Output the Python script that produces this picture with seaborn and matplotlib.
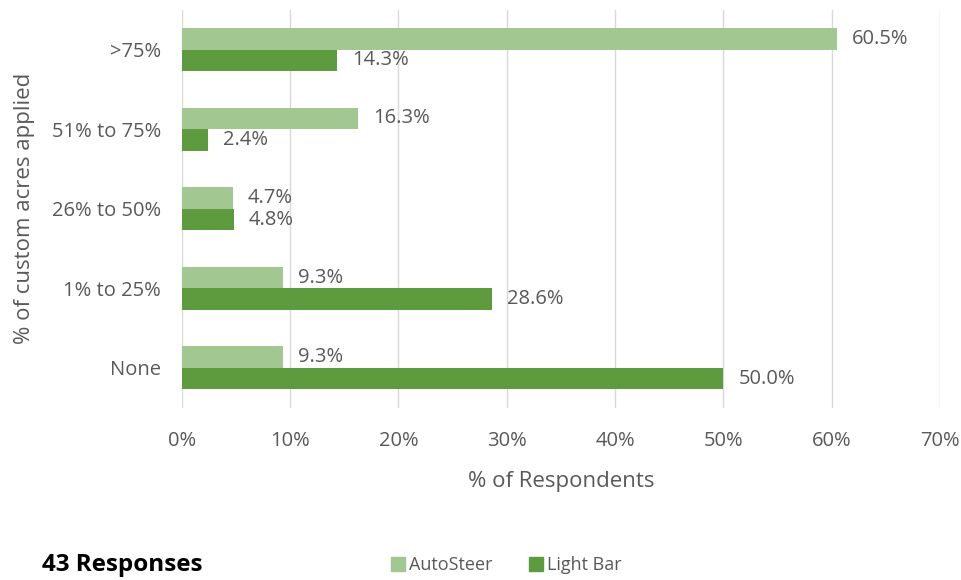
import matplotlib.pyplot as plt
import matplotlib.ticker as mticker
import pandas as pd
import seaborn as sns

# values
categories = ['>75%', '51% to 75%', '26% to 50%', '1% to 25%', 'None']
autosteer = [60.5, 16.3, 4.7, 9.3, 9.3]
light_bar = [14.3, 2.4, 4.8, 28.6, 50.0]
series = ['AutoSteer', 'Light Bar']
colors = ['#A2C791', '#5E9A3E']
x_ticks = [0, 10, 20, 30, 40, 50, 60, 70]

df = pd.DataFrame({
    'category': categories * 2,
    'value': autosteer + light_bar,
    'series': [series[0]] * len(categories) + [series[1]] * len(categories),
})

sns.set_theme(style='white')
plt.rcParams['font.family'] = ['Open Sans', 'DejaVu Sans']
text_color = '#595959'

fig = plt.figure(figsize=(9.62, 5.8), dpi=100)
ax = fig.add_axes([0.189, 0.297, 0.788, 0.686])

sns.barplot(data=df, x='value', y='category', hue='series', order=categories,
            hue_order=series, palette=colors, orient='h', width=0.54,
            saturation=1, linewidth=0, legend=False, ax=ax)

for cont in ax.containers:
    ax.bar_label(cont, labels=[f'{v:.1f}%' for v in cont.datavalues],
                 padding=11, fontsize=14.5, color=text_color)

ax.set_xlim(0, 70)
ax.set_ylim(4.5, -0.5)
ax.set_xticks(x_ticks)
ax.xaxis.set_major_formatter(mticker.FuncFormatter(lambda v, p: f'{v:.0f}%'))
ax.grid(axis='x', color='#D9D9D9', linewidth=1)
ax.set_axisbelow(True)
for s in ax.spines.values():
    s.set_visible(False)
ax.tick_params(axis='both', length=0, labelsize=14.5, labelcolor=text_color)
ax.tick_params(axis='x', pad=17)
ax.tick_params(axis='y', pad=15)

ax.set_xlabel('% of Respondents', fontsize=16, color=text_color, labelpad=14)
ax.set_ylabel('% of custom acres applied', fontsize=16, color=text_color, labelpad=12)

fig.text(0.044, 0.015, '43 Responses', fontsize=17.5, fontweight='bold', color='black')

handles = [plt.Rectangle((0, 0), 1, 1, color=c) for c in colors]
fig.legend(handles, series, loc='center', bbox_to_anchor=(0.526, 0.026), ncol=2,
           frameon=False, fontsize=13, handlelength=0.8, handleheight=0.8,
           handletextpad=0.2, columnspacing=2.0, labelcolor=text_color)

fig.savefig('out.png', dpi=100)
